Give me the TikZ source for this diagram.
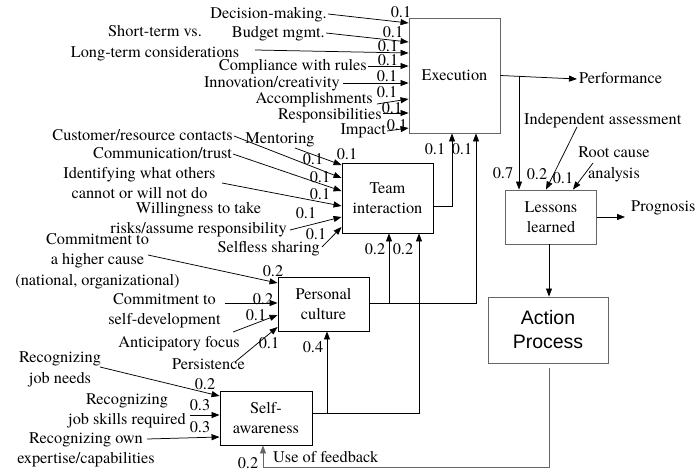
\documentclass[tikz,border=0pt]{standalone}
\usepackage{fontspec}
\newfontfamily\timesfont{texgyretermes-regular.otf}
\newfontfamily\arialfont{Liberation Sans}
\usetikzlibrary{arrows.meta}

\begin{document}
\begin{tikzpicture}[x=1pt,y=-1pt,
  txt/.style={inner sep=0pt, font=\timesfont\fontsize{16.3}{20.5}\selectfont, align=center},
  one/.style={txt, text height=11.5pt, text depth=3.5pt},
  box/.style={draw, line width=0.9pt, inner sep=0pt, align=center,
              font=\timesfont\fontsize{16.3}{20.5}\selectfont},
  gbox/.style={box, draw=black!60},
  ln/.style={line width=0.75pt},
  arr/.style={ln, -{Triangle[length=8pt,width=6pt]}},
  garr/.style={arr, draw=black!60}
]
\useasboundingbox (0,0) rectangle (696,471);

% ---------- blocks ----------
\node[gbox, minimum width=91pt, minimum height=115pt] (ex) at (454.5,75.5) {Execution};
\node[box, minimum width=91pt, minimum height=70pt] (ti) at (387.5,198) {Team\\interaction};
\node[box, minimum width=91pt, minimum height=54pt] (pc) at (323.5,304) {Personal\\culture};
\node[box, minimum width=92pt, minimum height=54pt] (sa) at (266,418) {Self-\\awareness};
\node[gbox, minimum width=91pt, minimum height=54pt] (ll) at (551,217) {Lessons\\learned};
\node[gbox, minimum width=120pt, minimum height=66pt,
      font=\arialfont\fontsize{19.5}{24}\selectfont] (ap) at (548,330) {Action\\Process};

% ---------- inputs to Execution ----------
\node[one, anchor=east] (dm) at (327,14) {Decision-making.};
\node[one, anchor=east] (bm) at (325,33) {Budget mgmt.};
\node[txt] (lt) at (155,43) {Short-term vs.\\Long-term considerations};
\node[one, anchor=east] (cr) at (367,66) {Compliance with rules};
\node[one, anchor=east] (ic) at (340,83) {Innovation/creativity};
\node[one, anchor=east] (ac) at (373,99) {Accomplishments};
\node[one, anchor=east] (rs) at (382,115) {Responsibilities};
\node[one, anchor=east] (im) at (386,130) {Impact};

\coordinate (ltend) at (255,50);
\coordinate (acend) at (377,104);
\coordinate (rsend) at (383,113);
\coordinate (imend) at (387,131);

\draw[arr] ([xshift=1pt]dm.east) -- (ex.west |- 0,23);
\draw[arr] ([xshift=1pt]bm.east) -- (ex.west |- 0,42);
\draw[arr] (ltend) -- (ex.west |- 0,53);
\draw[arr] ([xshift=1pt]cr.east) -- (ex.west |- 0,66);
\draw[arr] ([xshift=3pt]ic.east) -- (ex.west |- 0,83);
\draw[arr] (acend) -- (ex.west |- 0,99);
\draw[arr] (rsend) -- (ex.west |- 0,113);
\draw[arr] (imend) -- (ex.west |- 0,128);

\node[one] (w1) at (401,13) {0.1};
\node[one] (w2) at (393,33) {0.1};
\node[one] (w3) at (388,47) {0.1};
\node[one] (w4) at (388,61) {0.1};
\node[one] (w5) at (387,77) {0.1};
\node[one] (w6) at (387,93) {0.1};
\node[one] (w7) at (392,109) {0.1};
\node[one] (w8) at (397,126) {0.1};

% ---------- inputs to Team interaction ----------
\node[one] (mt) at (280,139) {Mentoring};
\node[one, anchor=east] (ce) at (233,136) {Customer/resource contacts};
\node[one, anchor=east] (cm) at (232,154) {Communication/trust};
\node[txt] (id) at (139.5,183) {Identifying what others\\cannot or will not do};
\node[txt] (wl) at (198.5,219.5) {Willingness to take\\risks/assume responsibility};
\node[one, anchor=east] (ss) at (320,248) {Selfless sharing};

\coordinate (mtend) at (295,148);
\coordinate (idend) at (222,183);
\coordinate (wlend) at (290,230);
\coordinate (ssend) at (322,247);

\draw[arr] (mtend) -- (ti.west |- 0,165);
\draw[arr] ([xshift=1pt]ce.east) -- (ti.west |- 0,178);
\draw[arr] ([xshift=1pt]cm.east) -- (ti.west |- 0,191);
\draw[arr] (idend) -- (ti.west |- 0,206);
\draw[arr] (wlend) -- (ti.west |- 0,217);
\draw[arr] (ssend) -- (ti.west |- 0,227);

\node[one] (t1) at (347,155) {0.1};
\node[one] (t2) at (313,160) {0.1};
\node[one] (t3) at (320,178) {0.1};
\node[one] (t4) at (320,195) {0.1};
\node[one] (t5) at (306,214) {0.1};
\node[one] (t6) at (316,235) {0.1};

% Team interaction -> Execution
\draw[arr] (ti.east |- 0,206) -- (452,206) -- (ex.south -| 452,0);
\node[one] (e1) at (435,150) {0.1};
\node[one] (e2) at (462,150) {0.1};

% ---------- inputs to Personal culture ----------
\node[txt] (hc) at (97.5,261) {Commitment to\\a higher cause\\(national, organizational)};
\node[txt] (sd) at (164.5,311) {Commitment to\\self-development};
\node[one, anchor=east] (af) at (240,343) {Anticipatory focus};
\node[one, anchor=east] (ps) at (245,365) {Persistence};

\coordinate (hcend) at (148,255);
\coordinate (sdend) at (225,303);
\coordinate (afend) at (233,332);
\coordinate (psend) at (235,362);

\draw[arr] (hcend) -- (pc.west |- 0,283);
\draw[arr] (sdend) -- (pc.west |- 0,303);
\draw[arr] (afend) -- (pc.west |- 0,315);
\draw[arr] (psend) -- (pc.west |- 0,327);

\node[one] (p1) at (273,272) {0.2};
\node[one] (p2) at (263,300) {0.2};
\node[one] (p3) at (256,316) {0.1};
\node[one] (p4) at (269,344) {0.1};

% Personal culture -> Execution and Team interaction
\draw[arr] (pc.east |- 0,303) -- (476,303) -- (ex.south -| 476,0);
\draw[arr] (389,303) -- (ti.south -| 389,0);

% ---------- inputs to Self-awareness ----------
\node[txt] (jn) at (60,369.5) {Recognizing\\job needs};
\node[txt] (js) at (127,411) {Recognizing\\job skills required};
\node[txt] (oe) at (86,450) {Recognizing own\\expertise/capabilities};

\coordinate (jnend) at (100,367);
\coordinate (jsend) at (190,415);
\coordinate (oeend) at (147,439);

\draw[arr] (jnend) -- (sa.west |- 0,396);
\draw[arr] (jsend) -- (sa.west |- 0,415);
\draw[arr] (oeend) -- (sa.west |- 0,437);

\node[one] (s1) at (205,385) {0.2};
\node[one] (s2) at (200,406) {0.3};
\node[one] (s3) at (200,428) {0.3};

% Self-awareness -> Team interaction and Personal culture
\draw[arr] (sa.east |- 0,413) -- (419,413) -- (ti.south -| 419,0);
\draw[arr] (327,413) -- (pc.south -| 327,0);
\node[one] (q1) at (375,250) {0.2};
\node[one] (q2) at (403,250) {0.2};
\node[one] (q3) at (313,348) {0.4};

% ---------- outputs of Execution ----------
\node[one, anchor=west] (pf) at (579,79) {Performance};
\draw[arr] (ex.east) -- (pf.west -| 577,0);
\draw[arr] (519,75.5) -- (ll.north -| 519,0);
\node[one] (l1) at (503,174) {0.7};

\node[one, anchor=west] (ia) at (524,120) {Independent assessment};
\node[txt] (rc) at (614,164.5) {Root cause\\analysis};
\coordinate (iaend) at (577,127);
\coordinate (rcend) at (593,163);
\draw[arr] (iaend) -- (ll.north -| 546,0);
\draw[arr] (rcend) -- (ll.north -| 573,0);
\node[one] (l2) at (537,175) {0.2};
\node[one] (l3) at (563,179) {0.1};

% ---------- Lessons learned outputs ----------
\node[one, anchor=west] (pg) at (631,207) {Prognosis};
\coordinate (pgend) at (625,217);
\draw[arr] (ll.east) -- (pgend);
\draw[arr] (ll.south -| 549,0) -- (ap.north -| 549,0);

% ---------- feedback loop ----------
\coordinate (fb1) at (549,368);
\coordinate (fb2) at (549,467);
\coordinate (fb3) at (263,467);
\draw[garr] (fb1) -- (fb2) -- (fb3) -- (sa.south -| 263,0);
\node[one, anchor=west] (uf) at (273,458) {Use of feedback};
\node[one] (f1) at (248,464) {0.2};

\end{tikzpicture}
\end{document}
